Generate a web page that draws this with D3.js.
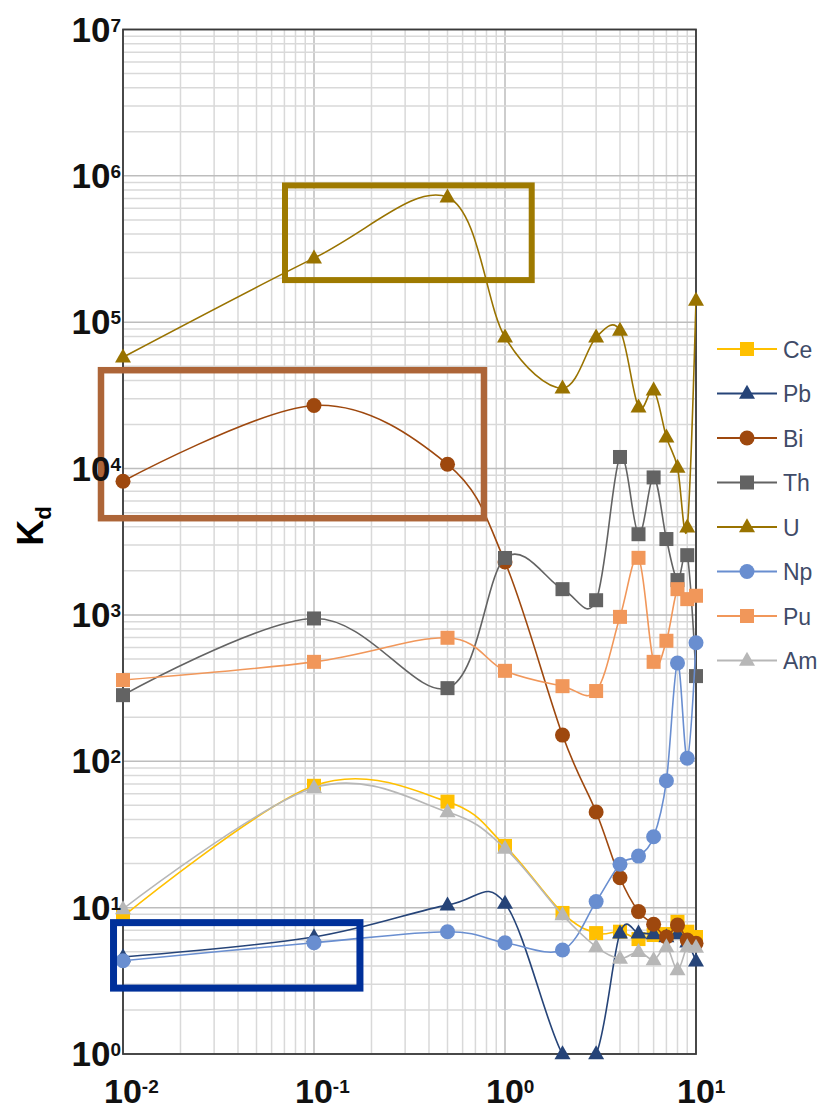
<!DOCTYPE html>
<html>
<head>
<meta charset="utf-8">
<script src="https://cdn.jsdelivr.net/npm/d3@7"></script>
<style>
  html, body { margin: 0; padding: 0; background: #fff; }
  svg { display: block; font-family: "Liberation Sans", Arial, sans-serif; }
</style>
</head>
<body>
<svg id="chart" width="827" height="1109"></svg>
<script>
// Sampling times (x) and distribution coefficients Kd for each element
const xValues = [0.01, 0.1, 0.5, 1, 2, 3, 4, 5, 6, 7, 8, 9, 10];

const ce = [8.7, 68, 53, 26.4, 9.2, 6.7, 6.85, 6.1, 6.5, 6.6, 8.0, 6.85, 6.3];
const pb = [4.6, 6.3, 10.4, 10.7, 1.0, 1.0, 6.7, 6.7, 6.6, 6.3, 6.6, 5.8, 4.3];
const bi = [8200, 27000, 10700, 2300, 151, 45, 16, 9.4, 7.7, 6.3, 7.6, 6.0, 5.7];
const th = [283, 946, 316, 2450, 1500, 1260, 12000, 3560, 8700, 3300, 1730, 2560, 382];
const u  = [57700, 274000, 714000, 79000, 35400, 79000, 88000, 26300, 34300, 16400, 10200, 3980, 141000];
const np = [4.34, 5.76, 6.85, 5.76, 5.13, 11.0, 19.8, 22.5, 30.5, 73.6, 469, 105, 645];
const pu = [359, 478, 698, 415, 326, 302, 970, 2455, 478, 666, 1500, 1282, 1352];
const am = [9.8, 66, 45, 25.4, 8.9, 5.4, 4.5, 5.0, 4.4, 5.4, 3.75, 5.4, 5.35];

const seriesNames  = ["Ce", "Pb", "Bi", "Th", "U", "Np", "Pu", "Am"];
const seriesValues = [ce, pb, bi, th, u, np, pu, am];
const seriesColors = ["#FFC000", "#264478", "#9E480E", "#636363", "#997300", "#698ED0", "#F1975A", "#B7B7B7"];
const seriesShapes = ["square", "triangle", "circle", "square", "triangle", "circle", "square", "triangle"];

const xTickValues = [0.01, 0.1, 1, 10];
const xTickExponents = ["-2", "-1", "0", "1"];
const yTickValues = [1, 10, 100, 1e3, 1e4, 1e5, 1e6, 1e7];
const yTickExponents = ["0", "1", "2", "3", "4", "5", "6", "7"];

// Highlight frames, in data units: [x0, x1, y0, y1]
const boxExtents = [
  [0.0705, 1.38, 1.94e5, 8.6e5],
  [0.00767, 0.776, 4580, 4.7e4],
  [0.00892, 0.174, 2.82, 7.9]
];
const boxColors = ["#9E7A00", "#AD6538", "#00309A"];
const boxWidths = [6, 6.5, 7];

// Layout
const plot = { left: 123, right: 696, top: 29.5, bottom: 1054 };
const x = d3.scaleLog().domain([0.01, 10]).range([plot.left, plot.right]);
const y = d3.scaleLog().domain([1, 1e7]).range([plot.bottom, plot.top]);

const svg = d3.select("#chart");

svg.append("defs").append("clipPath").attr("id", "plotClip")
  .append("rect")
  .attr("x", plot.left).attr("y", plot.top)
  .attr("width", plot.right - plot.left).attr("height", plot.bottom - plot.top);

// Grid
const grid = svg.append("g");
const isMajor = v => Math.abs(Math.log10(v) - Math.round(Math.log10(v))) < 1e-9;

grid.selectAll("line.vx").data(x.ticks()).join("line")
  .attr("x1", d => x(d)).attr("x2", d => x(d))
  .attr("y1", plot.top).attr("y2", plot.bottom)
  .attr("stroke", d => isMajor(d) ? "#bdbdbd" : "#d9d9d9")
  .attr("stroke-width", 1.5);

grid.selectAll("line.hy").data(y.ticks()).join("line")
  .attr("y1", d => y(d)).attr("y2", d => y(d))
  .attr("x1", plot.left).attr("x2", plot.right)
  .attr("stroke", d => isMajor(d) ? "#bdbdbd" : "#d9d9d9")
  .attr("stroke-width", 1.5);

// Frame
svg.append("rect")
  .attr("x", plot.left).attr("y", plot.top)
  .attr("width", plot.right - plot.left).attr("height", plot.bottom - plot.top)
  .attr("fill", "none").attr("stroke", "#3a3a3a").attr("stroke-width", 1.8);

// Marker drawing helper
function drawMarker(g, shape, cx, cy, color) {
  if (shape === "square") {
    g.append("rect").attr("x", cx - 7).attr("y", cy - 7)
      .attr("width", 14).attr("height", 14).attr("fill", color);
  } else if (shape === "circle") {
    g.append("circle").attr("cx", cx).attr("cy", cy).attr("r", 7.5).attr("fill", color);
  } else {
    const h = 14, w = 16;
    g.append("path")
      .attr("d", `M${cx},${cy - h * 0.62}L${cx + w / 2},${cy + h * 0.38}L${cx - w / 2},${cy + h * 0.38}Z`)
      .attr("fill", color);
  }
}

// Series: smoothed line plus markers
const line = d3.line()
  .x(d => x(d[0])).y(d => y(d[1]))
  .curve(d3.curveCardinal.tension(0));

seriesNames.forEach((name, i) => {
  const pts = xValues.map((xv, j) => [xv, seriesValues[i][j]]);
  const g = svg.append("g");
  g.append("path")
    .attr("d", line(pts))
    .attr("fill", "none")
    .attr("stroke", seriesColors[i])
    .attr("stroke-width", 1.6)
    .attr("clip-path", "url(#plotClip)");
  pts.forEach(p => drawMarker(g, seriesShapes[i], x(p[0]), y(p[1]), seriesColors[i]));
});

// Highlight frames
boxExtents.forEach((b, i) => {
  svg.append("rect")
    .attr("x", x(b[0])).attr("y", y(b[3]))
    .attr("width", x(b[1]) - x(b[0])).attr("height", y(b[2]) - y(b[3]))
    .attr("fill", "none").attr("stroke", boxColors[i]).attr("stroke-width", boxWidths[i]);
});

// Y tick labels
yTickValues.forEach((v, i) => {
  const t = svg.append("text")
    .attr("x", 121).attr("y", y(v) + 12)
    .attr("text-anchor", "end")
    .attr("font-weight", "bold").attr("fill", "#111");
  t.append("tspan").attr("font-size", 35).text("10");
  t.append("tspan").attr("font-size", 19).attr("dy", -10).text(yTickExponents[i]);
});

// X tick labels
xTickValues.forEach((v, i) => {
  const t = svg.append("text")
    .attr("x", x(v) - 19).attr("y", 1103)
    .attr("font-weight", "bold").attr("fill", "#111");
  t.append("tspan").attr("font-size", 34).text("10");
  t.append("tspan").attr("font-size", 19).attr("dy", -10).text(xTickExponents[i]);
});

// Y axis title
const yt = svg.append("text")
  .attr("transform", "translate(43,526) rotate(-90)")
  .attr("text-anchor", "middle")
  .attr("font-weight", "bold").attr("fill", "#000");
yt.append("tspan").attr("font-size", 36).text("K");
yt.append("tspan").attr("font-size", 22).attr("dy", 8).text("d");

// Legend
const legend = svg.append("g");
seriesNames.forEach((name, i) => {
  const ly = 349 + i * 44.5;
  legend.append("line")
    .attr("x1", 717).attr("x2", 777).attr("y1", ly).attr("y2", ly)
    .attr("stroke", seriesColors[i]).attr("stroke-width", 2);
  drawMarker(legend, seriesShapes[i], 747, ly, seriesColors[i]);
  legend.append("text")
    .attr("x", 783).attr("y", ly + 8.5)
    .attr("font-size", 23).attr("fill", "#3f4b68")
    .text(name);
});
</script>
</body>
</html>
